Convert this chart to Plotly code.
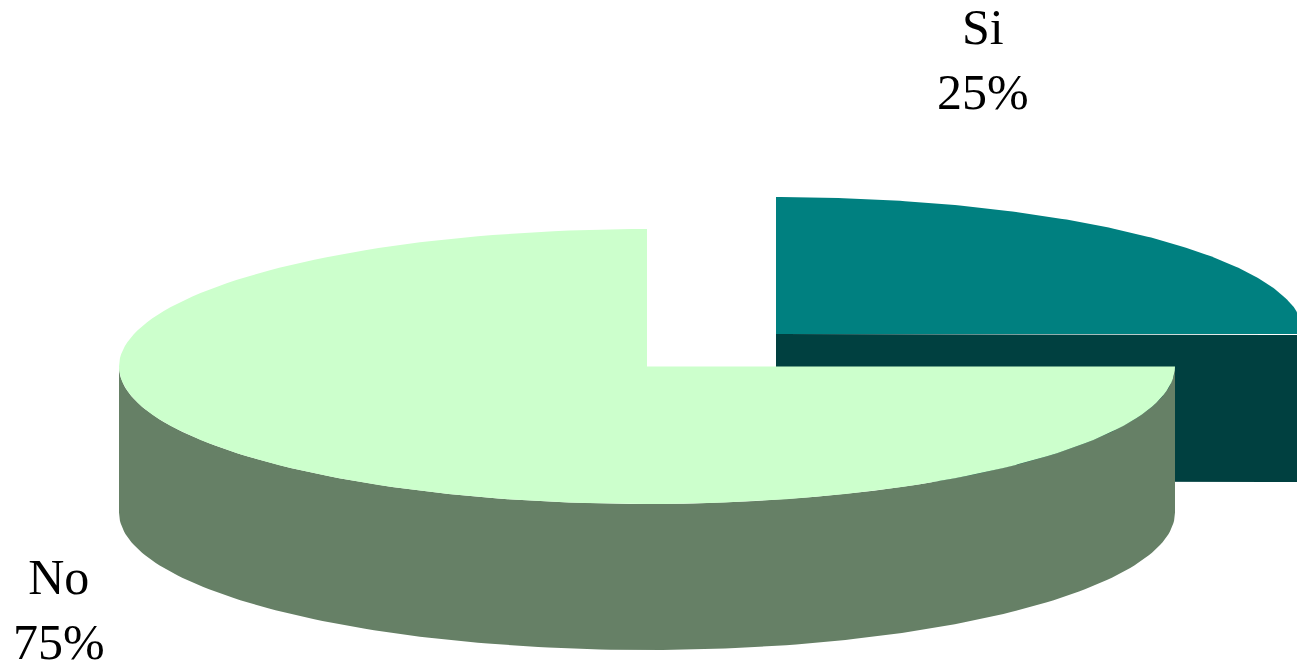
import numpy as np
import plotly.graph_objects as go

categories = ["Si", "No"]
values = [25, 75]
top_colors = ["#008080", "#CCFFCC"]
side_colors = ["#004040", "#668066"]

W, H = 1297, 663
# pie geometry per slice: centre x, centre y, radius x, radius y, depth
geom = [(776, 334, 528, 137, 147), (647, 366.5, 528, 137.5, 146)]
label_pos = [(983, 59), (59, 609)]

fig = go.Figure()


def arc(cx, cy, rx, ry, a0, a1, n=160):
    t = np.radians(np.linspace(a0, a1, n))
    return cx + rx * np.sin(t), cy - ry * np.cos(t)


angle = 0.0
total = sum(values)
for cat, val, top, side, (cx, cy, rx, ry, d) in zip(categories, values, top_colors, side_colors, geom):
    a0, a1 = angle, angle + 360.0 * val / total
    angle = a1
    ax, ay = arc(cx, cy, rx, ry, a0, a1)
    # outer and cut walls
    if cat == "Si":
        wx = [cx, cx + rx, cx + rx, cx]
        wy = [cy, cy + 1, cy + 1 + d, cy + d]
    else:
        bx, by = arc(cx, cy, rx, ry, max(a0, 90), min(a1, 270))
        wx = np.concatenate([bx, bx[::-1]])
        wy = np.concatenate([by, by[::-1] + d])
    fig.add_trace(go.Scatter(x=wx, y=wy, mode="lines", fill="toself", fillcolor=side,
                             line=dict(width=0), hoverinfo="skip", showlegend=False))
    fig.add_trace(go.Scatter(x=np.concatenate([[cx], ax, [cx]]), y=np.concatenate([[cy], ay, [cy]]),
                             mode="lines", fill="toself", fillcolor=top, line=dict(width=0),
                             name=cat, showlegend=False))

for cat, val, (lx, ly) in zip(categories, values, label_pos):
    fig.add_annotation(x=lx, y=ly, xref="x", yref="y", showarrow=False, align="center",
                       text=f"{cat}<br>{val}%",
                       font=dict(family="Liberation Serif", size=50, color="#000000"))

fig.update_layout(width=W, height=H, margin=dict(l=0, r=0, t=0, b=0),
                  paper_bgcolor="white", plot_bgcolor="white",
                  xaxis=dict(range=[0, W], visible=False, fixedrange=True),
                  yaxis=dict(range=[H, 0], visible=False, fixedrange=True))
fig.write_html("out.html", config={"displayModeBar": False},
               post_script="document.body.style.margin='0';document.documentElement.style.overflow='hidden';")
